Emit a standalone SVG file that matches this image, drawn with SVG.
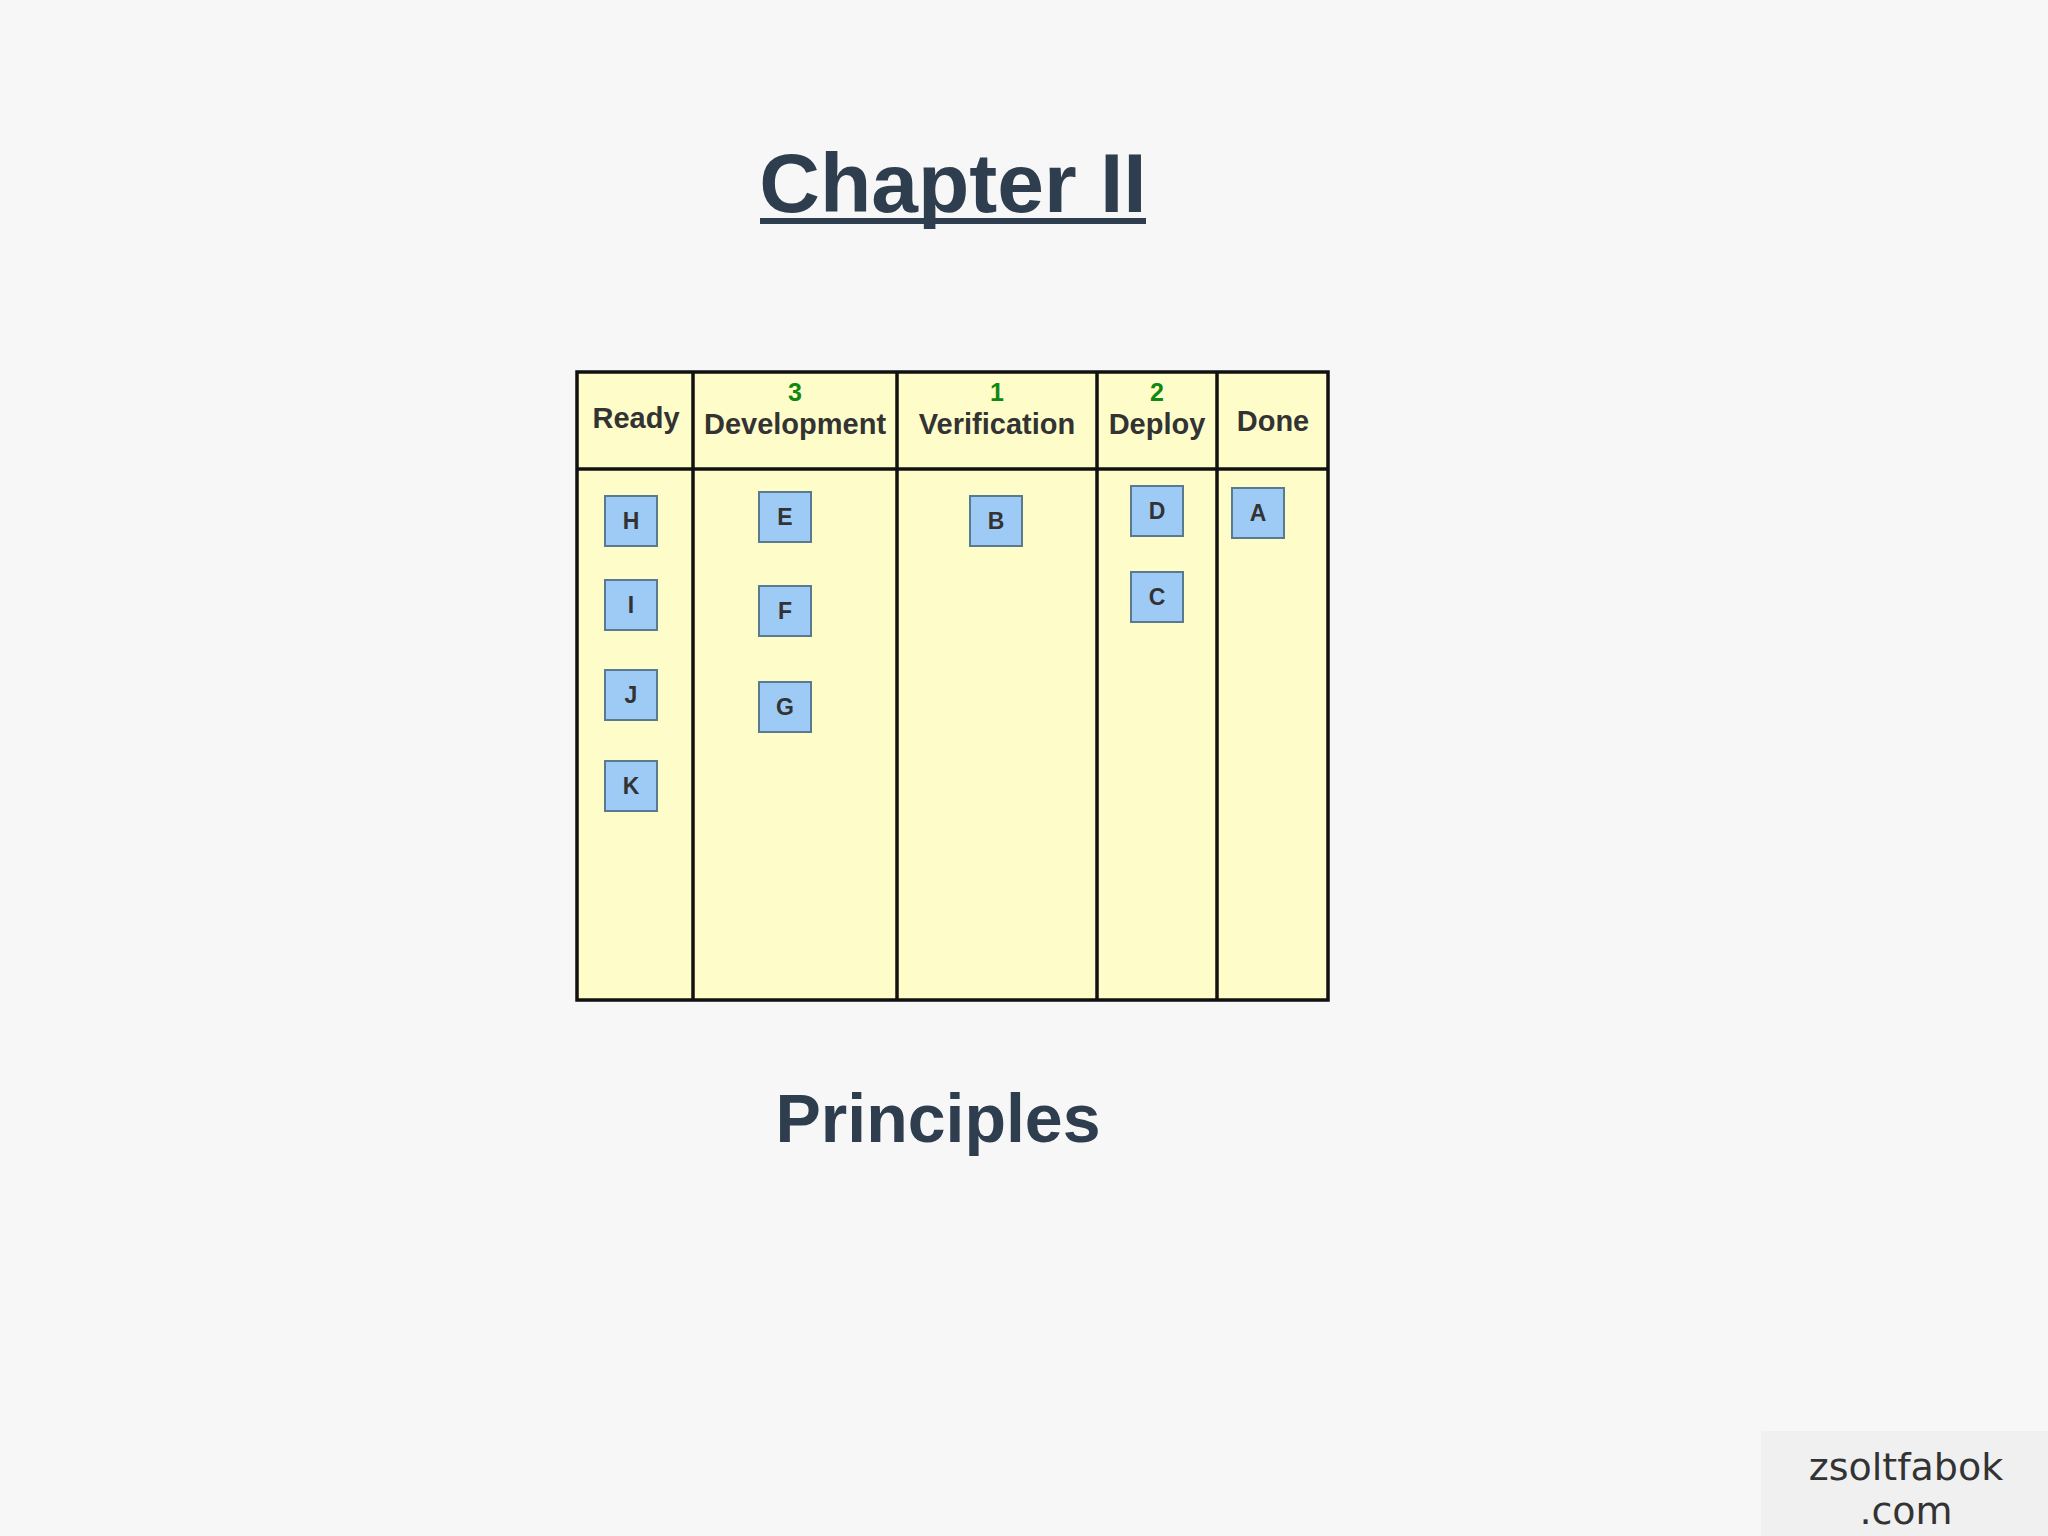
<svg xmlns="http://www.w3.org/2000/svg" width="2048" height="1536" viewBox="0 0 2048 1536">
<style>
.t{font-family:"Liberation Sans",Arial,sans-serif;font-weight:bold;fill:#2f3e4e;text-anchor:middle}
.h{font-family:"Liberation Sans",Arial,sans-serif;font-weight:bold;fill:#333;text-anchor:middle;font-size:29px}
.n{font-family:"Liberation Sans",Arial,sans-serif;font-weight:bold;fill:#118811;text-anchor:middle;font-size:25px}
.card rect{fill:#9ecbf5;stroke:#5a7a90;stroke-width:2}
.card text{font-family:"Liberation Sans",Arial,sans-serif;font-weight:bold;fill:#333;text-anchor:middle;font-size:23px}
.ln{stroke:#111;stroke-width:3.5}
.wm{font-family:"DejaVu Sans",sans-serif;fill:#333;text-anchor:middle;font-size:38px}
</style>
<rect width="2048" height="1536" fill="#f7f7f8"/>
<text class="t" x="953" y="212" font-size="84">Chapter II</text>
<rect x="760" y="218" width="386" height="6" fill="#2f3e4e"/>
<g id="board">
<rect x="577" y="372" width="751" height="628" fill="#fefdc9" stroke="#111" stroke-width="3.5"/>
<line class="ln" x1="577" y1="469" x2="1328" y2="469"/>
<line class="ln" x1="693" y1="372" x2="693" y2="1000"/>
<line class="ln" x1="897" y1="372" x2="897" y2="1000"/>
<line class="ln" x1="1097" y1="372" x2="1097" y2="1000"/>
<line class="ln" x1="1217" y1="372" x2="1217" y2="1000"/>
<text class="h" x="636" y="428" font-size="24">Ready</text>
<text class="n" x="795" y="401">3</text><text class="h" x="795" y="434">Development</text>
<text class="n" x="997" y="401">1</text><text class="h" x="997" y="434">Verification</text>
<text class="n" x="1157" y="401">2</text><text class="h" x="1157" y="434">Deploy</text>
<text class="h" x="1273" y="431">Done</text>
</g>
<g id="H" class="card"><rect x="605" y="496" width="52" height="50"/><text x="631" y="529">H</text></g>
<g id="I" class="card"><rect x="605" y="580" width="52" height="50"/><text x="631" y="613">I</text></g>
<g id="J" class="card"><rect x="605" y="670" width="52" height="50"/><text x="631" y="703">J</text></g>
<g id="K" class="card"><rect x="605" y="761" width="52" height="50"/><text x="631" y="794">K</text></g>
<g id="E" class="card"><rect x="759" y="492" width="52" height="50"/><text x="785" y="525">E</text></g>
<g id="F" class="card"><rect x="759" y="586" width="52" height="50"/><text x="785" y="619">F</text></g>
<g id="G" class="card"><rect x="759" y="682" width="52" height="50"/><text x="785" y="715">G</text></g>
<g id="B" class="card"><rect x="970" y="496" width="52" height="50"/><text x="996" y="529">B</text></g>
<g id="D" class="card"><rect x="1131" y="486" width="52" height="50"/><text x="1157" y="519">D</text></g>
<g id="C" class="card"><rect x="1131" y="572" width="52" height="50"/><text x="1157" y="605">C</text></g>
<g id="A" class="card"><rect x="1232" y="488" width="52" height="50"/><text x="1258" y="521">A</text></g>
<g id="connectors"/>
<text class="t" x="938" y="1142" font-size="68">Principles</text>
<rect x="1761" y="1431" width="287" height="105" fill="#f0f0f1"/>
<text class="wm" x="1906" y="1480">zsoltfabok</text>
<text class="wm" x="1906" y="1524">.com</text>
</svg>
